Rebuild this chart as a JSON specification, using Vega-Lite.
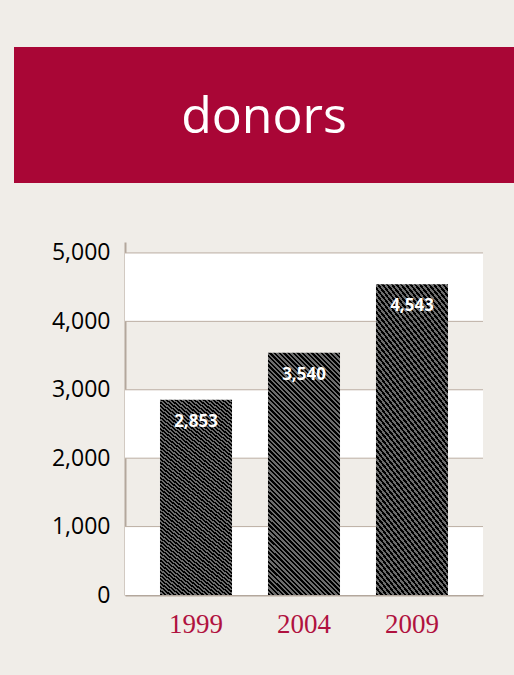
{
  "$schema": "https://vega.github.io/schema/vega-lite/v6.json",
  "background": "#F0EDE8",
  "padding": {"left": 14, "top": 47, "right": 0, "bottom": 40},
  "config": {"view": {"stroke": null}, "font": "Open Sans"},
  "datasets": {
    "donors": [
      {"year": "1999", "donors": 2853},
      {"year": "2004", "donors": 3540},
      {"year": "2009", "donors": 4543}
    ],
    "bands": [
      {"lo": 0, "hi": 1000},
      {"lo": 2000, "hi": 3000},
      {"lo": 4000, "hi": 5000}
    ],
    "grid": [{"v": 1000}, {"v": 2000}, {"v": 3000}, {"v": 4000}, {"v": 5000}]
  },
  "spacing": 58,
  "vconcat": [
    {
      "width": 500,
      "height": 136,
      "view": {"fill": "#A90636", "stroke": null},
      "data": {"values": [{"title": "donors"}]},
      "mark": {"type": "text", "font": "Open Sans", "fontSize": 50, "color": "#FFFFFF", "baseline": "middle", "align": "center", "dy": 3},
      "encoding": {"text": {"field": "title"}}
    },
    {
      "spacing": 0,
      "hconcat": [
        {"width": 37, "height": 353, "data": {"values": []}, "mark": "rect"},
        {
          "width": 358,
          "height": 353,
          "layer": [
            {
              "data": {"name": "bands"},
              "mark": {"type": "rect", "fill": "#FFFFFF"},
              "encoding": {
                "y": {
                  "field": "lo", "type": "quantitative",
                  "scale": {"domain": [0, 5160], "nice": false, "zero": true},
                  "axis": {
                    "values": [0, 1000, 2000, 3000, 4000, 5000], "format": ",d", "title": null,
                    "grid": false, "ticks": false, "tickSize": 0,
                    "labelFont": "Open Sans", "labelFontSize": 23, "labelColor": "#000000", "labelPadding": 15,
                    "domainColor": "#B3A79C", "domainWidth": 2
                  }
                },
                "y2": {"field": "hi"}
              }
            },
            {
              "data": {"name": "grid"},
              "mark": {"type": "rule", "color": "#BBAEA2", "strokeWidth": 1},
              "encoding": {"y": {"field": "v", "type": "quantitative", "title": null}}
            },
            {
              "data": {"name": "donors"},
              "mark": {
                "type": "bar",
                "fill": {
                  "gradient": "linear", "x1": 0, "y1": 1, "x2": 0.526, "y2": -0.771,
                  "stops": [
{"offset":0,"color":"#000"},{"offset":0.005,"color":"#000"},{"offset":0.005,"color":"#6c6c6c"},{"offset":0.01,"color":"#6c6c6c"},
{"offset":0.01,"color":"#000"},{"offset":0.015,"color":"#000"},{"offset":0.015,"color":"#6c6c6c"},{"offset":0.02,"color":"#6c6c6c"},
{"offset":0.02,"color":"#000"},{"offset":0.025,"color":"#000"},{"offset":0.025,"color":"#6c6c6c"},{"offset":0.03,"color":"#6c6c6c"},
{"offset":0.03,"color":"#000"},{"offset":0.035,"color":"#000"},{"offset":0.035,"color":"#6c6c6c"},{"offset":0.04,"color":"#6c6c6c"},
{"offset":0.04,"color":"#000"},{"offset":0.045,"color":"#000"},{"offset":0.045,"color":"#6c6c6c"},{"offset":0.05,"color":"#6c6c6c"},
{"offset":0.05,"color":"#000"},{"offset":0.055,"color":"#000"},{"offset":0.055,"color":"#6c6c6c"},{"offset":0.06,"color":"#6c6c6c"},
{"offset":0.06,"color":"#000"},{"offset":0.065,"color":"#000"},{"offset":0.065,"color":"#6c6c6c"},{"offset":0.07,"color":"#6c6c6c"},
{"offset":0.07,"color":"#000"},{"offset":0.075,"color":"#000"},{"offset":0.075,"color":"#6c6c6c"},{"offset":0.08,"color":"#6c6c6c"},
{"offset":0.08,"color":"#000"},{"offset":0.085,"color":"#000"},{"offset":0.085,"color":"#6c6c6c"},{"offset":0.09,"color":"#6c6c6c"},
{"offset":0.09,"color":"#000"},{"offset":0.095,"color":"#000"},{"offset":0.095,"color":"#6c6c6c"},{"offset":0.1,"color":"#6c6c6c"},
{"offset":0.1,"color":"#000"},{"offset":0.105,"color":"#000"},{"offset":0.105,"color":"#6c6c6c"},{"offset":0.11,"color":"#6c6c6c"},
{"offset":0.11,"color":"#000"},{"offset":0.115,"color":"#000"},{"offset":0.115,"color":"#6c6c6c"},{"offset":0.12,"color":"#6c6c6c"},
{"offset":0.12,"color":"#000"},{"offset":0.125,"color":"#000"},{"offset":0.125,"color":"#6c6c6c"},{"offset":0.13,"color":"#6c6c6c"},
{"offset":0.13,"color":"#000"},{"offset":0.135,"color":"#000"},{"offset":0.135,"color":"#6c6c6c"},{"offset":0.14,"color":"#6c6c6c"},
{"offset":0.14,"color":"#000"},{"offset":0.145,"color":"#000"},{"offset":0.145,"color":"#6c6c6c"},{"offset":0.15,"color":"#6c6c6c"},
{"offset":0.15,"color":"#000"},{"offset":0.155,"color":"#000"},{"offset":0.155,"color":"#6c6c6c"},{"offset":0.16,"color":"#6c6c6c"},
{"offset":0.16,"color":"#000"},{"offset":0.165,"color":"#000"},{"offset":0.165,"color":"#6c6c6c"},{"offset":0.17,"color":"#6c6c6c"},
{"offset":0.17,"color":"#000"},{"offset":0.175,"color":"#000"},{"offset":0.175,"color":"#6c6c6c"},{"offset":0.18,"color":"#6c6c6c"},
{"offset":0.18,"color":"#000"},{"offset":0.185,"color":"#000"},{"offset":0.185,"color":"#6c6c6c"},{"offset":0.19,"color":"#6c6c6c"},
{"offset":0.19,"color":"#000"},{"offset":0.195,"color":"#000"},{"offset":0.195,"color":"#6c6c6c"},{"offset":0.2,"color":"#6c6c6c"},
{"offset":0.2,"color":"#000"},{"offset":0.205,"color":"#000"},{"offset":0.205,"color":"#6c6c6c"},{"offset":0.21,"color":"#6c6c6c"},
{"offset":0.21,"color":"#000"},{"offset":0.215,"color":"#000"},{"offset":0.215,"color":"#6c6c6c"},{"offset":0.22,"color":"#6c6c6c"},
{"offset":0.22,"color":"#000"},{"offset":0.225,"color":"#000"},{"offset":0.225,"color":"#6c6c6c"},{"offset":0.23,"color":"#6c6c6c"},
{"offset":0.23,"color":"#000"},{"offset":0.235,"color":"#000"},{"offset":0.235,"color":"#6c6c6c"},{"offset":0.24,"color":"#6c6c6c"},
{"offset":0.24,"color":"#000"},{"offset":0.245,"color":"#000"},{"offset":0.245,"color":"#6c6c6c"},{"offset":0.25,"color":"#6c6c6c"},
{"offset":0.25,"color":"#000"},{"offset":0.255,"color":"#000"},{"offset":0.255,"color":"#6c6c6c"},{"offset":0.26,"color":"#6c6c6c"},
{"offset":0.26,"color":"#000"},{"offset":0.265,"color":"#000"},{"offset":0.265,"color":"#6c6c6c"},{"offset":0.27,"color":"#6c6c6c"},
{"offset":0.27,"color":"#000"},{"offset":0.275,"color":"#000"},{"offset":0.275,"color":"#6c6c6c"},{"offset":0.28,"color":"#6c6c6c"},
{"offset":0.28,"color":"#000"},{"offset":0.285,"color":"#000"},{"offset":0.285,"color":"#6c6c6c"},{"offset":0.29,"color":"#6c6c6c"},
{"offset":0.29,"color":"#000"},{"offset":0.295,"color":"#000"},{"offset":0.295,"color":"#6c6c6c"},{"offset":0.3,"color":"#6c6c6c"},
{"offset":0.3,"color":"#000"},{"offset":0.305,"color":"#000"},{"offset":0.305,"color":"#6c6c6c"},{"offset":0.31,"color":"#6c6c6c"},
{"offset":0.31,"color":"#000"},{"offset":0.315,"color":"#000"},{"offset":0.315,"color":"#6c6c6c"},{"offset":0.32,"color":"#6c6c6c"},
{"offset":0.32,"color":"#000"},{"offset":0.325,"color":"#000"},{"offset":0.325,"color":"#6c6c6c"},{"offset":0.33,"color":"#6c6c6c"},
{"offset":0.33,"color":"#000"},{"offset":0.335,"color":"#000"},{"offset":0.335,"color":"#6c6c6c"},{"offset":0.34,"color":"#6c6c6c"},
{"offset":0.34,"color":"#000"},{"offset":0.345,"color":"#000"},{"offset":0.345,"color":"#6c6c6c"},{"offset":0.35,"color":"#6c6c6c"},
{"offset":0.35,"color":"#000"},{"offset":0.355,"color":"#000"},{"offset":0.355,"color":"#6c6c6c"},{"offset":0.36,"color":"#6c6c6c"},
{"offset":0.36,"color":"#000"},{"offset":0.365,"color":"#000"},{"offset":0.365,"color":"#6c6c6c"},{"offset":0.37,"color":"#6c6c6c"},
{"offset":0.37,"color":"#000"},{"offset":0.375,"color":"#000"},{"offset":0.375,"color":"#6c6c6c"},{"offset":0.38,"color":"#6c6c6c"},
{"offset":0.38,"color":"#000"},{"offset":0.385,"color":"#000"},{"offset":0.385,"color":"#6c6c6c"},{"offset":0.39,"color":"#6c6c6c"},
{"offset":0.39,"color":"#000"},{"offset":0.395,"color":"#000"},{"offset":0.395,"color":"#6c6c6c"},{"offset":0.4,"color":"#6c6c6c"},
{"offset":0.4,"color":"#000"},{"offset":0.405,"color":"#000"},{"offset":0.405,"color":"#6c6c6c"},{"offset":0.41,"color":"#6c6c6c"},
{"offset":0.41,"color":"#000"},{"offset":0.415,"color":"#000"},{"offset":0.415,"color":"#6c6c6c"},{"offset":0.42,"color":"#6c6c6c"},
{"offset":0.42,"color":"#000"},{"offset":0.425,"color":"#000"},{"offset":0.425,"color":"#6c6c6c"},{"offset":0.43,"color":"#6c6c6c"},
{"offset":0.43,"color":"#000"},{"offset":0.435,"color":"#000"},{"offset":0.435,"color":"#6c6c6c"},{"offset":0.44,"color":"#6c6c6c"},
{"offset":0.44,"color":"#000"},{"offset":0.445,"color":"#000"},{"offset":0.445,"color":"#6c6c6c"},{"offset":0.45,"color":"#6c6c6c"},
{"offset":0.45,"color":"#000"},{"offset":0.455,"color":"#000"},{"offset":0.455,"color":"#6c6c6c"},{"offset":0.46,"color":"#6c6c6c"},
{"offset":0.46,"color":"#000"},{"offset":0.465,"color":"#000"},{"offset":0.465,"color":"#6c6c6c"},{"offset":0.47,"color":"#6c6c6c"},
{"offset":0.47,"color":"#000"},{"offset":0.475,"color":"#000"},{"offset":0.475,"color":"#6c6c6c"},{"offset":0.48,"color":"#6c6c6c"},
{"offset":0.48,"color":"#000"},{"offset":0.485,"color":"#000"},{"offset":0.485,"color":"#6c6c6c"},{"offset":0.49,"color":"#6c6c6c"},
{"offset":0.49,"color":"#000"},{"offset":0.495,"color":"#000"},{"offset":0.495,"color":"#6c6c6c"},{"offset":0.5,"color":"#6c6c6c"},
{"offset":0.5,"color":"#000"},{"offset":0.505,"color":"#000"},{"offset":0.505,"color":"#6c6c6c"},{"offset":0.51,"color":"#6c6c6c"},
{"offset":0.51,"color":"#000"},{"offset":0.515,"color":"#000"},{"offset":0.515,"color":"#6c6c6c"},{"offset":0.52,"color":"#6c6c6c"},
{"offset":0.52,"color":"#000"},{"offset":0.525,"color":"#000"},{"offset":0.525,"color":"#6c6c6c"},{"offset":0.53,"color":"#6c6c6c"},
{"offset":0.53,"color":"#000"},{"offset":0.535,"color":"#000"},{"offset":0.535,"color":"#6c6c6c"},{"offset":0.54,"color":"#6c6c6c"},
{"offset":0.54,"color":"#000"},{"offset":0.545,"color":"#000"},{"offset":0.545,"color":"#6c6c6c"},{"offset":0.55,"color":"#6c6c6c"},
{"offset":0.55,"color":"#000"},{"offset":0.555,"color":"#000"},{"offset":0.555,"color":"#6c6c6c"},{"offset":0.56,"color":"#6c6c6c"},
{"offset":0.56,"color":"#000"},{"offset":0.565,"color":"#000"},{"offset":0.565,"color":"#6c6c6c"},{"offset":0.57,"color":"#6c6c6c"},
{"offset":0.57,"color":"#000"},{"offset":0.575,"color":"#000"},{"offset":0.575,"color":"#6c6c6c"},{"offset":0.58,"color":"#6c6c6c"},
{"offset":0.58,"color":"#000"},{"offset":0.585,"color":"#000"},{"offset":0.585,"color":"#6c6c6c"},{"offset":0.59,"color":"#6c6c6c"},
{"offset":0.59,"color":"#000"},{"offset":0.595,"color":"#000"},{"offset":0.595,"color":"#6c6c6c"},{"offset":0.6,"color":"#6c6c6c"},
{"offset":0.6,"color":"#000"},{"offset":0.605,"color":"#000"},{"offset":0.605,"color":"#6c6c6c"},{"offset":0.61,"color":"#6c6c6c"},
{"offset":0.61,"color":"#000"},{"offset":0.615,"color":"#000"},{"offset":0.615,"color":"#6c6c6c"},{"offset":0.62,"color":"#6c6c6c"},
{"offset":0.62,"color":"#000"},{"offset":0.625,"color":"#000"},{"offset":0.625,"color":"#6c6c6c"},{"offset":0.63,"color":"#6c6c6c"},
{"offset":0.63,"color":"#000"},{"offset":0.635,"color":"#000"},{"offset":0.635,"color":"#6c6c6c"},{"offset":0.64,"color":"#6c6c6c"},
{"offset":0.64,"color":"#000"},{"offset":0.645,"color":"#000"},{"offset":0.645,"color":"#6c6c6c"},{"offset":0.65,"color":"#6c6c6c"},
{"offset":0.65,"color":"#000"},{"offset":0.655,"color":"#000"},{"offset":0.655,"color":"#6c6c6c"},{"offset":0.66,"color":"#6c6c6c"},
{"offset":0.66,"color":"#000"},{"offset":0.665,"color":"#000"},{"offset":0.665,"color":"#6c6c6c"},{"offset":0.67,"color":"#6c6c6c"},
{"offset":0.67,"color":"#000"},{"offset":0.675,"color":"#000"},{"offset":0.675,"color":"#6c6c6c"},{"offset":0.68,"color":"#6c6c6c"},
{"offset":0.68,"color":"#000"},{"offset":0.685,"color":"#000"},{"offset":0.685,"color":"#6c6c6c"},{"offset":0.69,"color":"#6c6c6c"},
{"offset":0.69,"color":"#000"},{"offset":0.695,"color":"#000"},{"offset":0.695,"color":"#6c6c6c"},{"offset":0.7,"color":"#6c6c6c"}
                  ]
                }
              },
              "encoding": {
                "x": {
                  "field": "year", "type": "nominal",
                  "scale": {"paddingInner": 0.333, "paddingOuter": 0.324},
                  "axis": {
                    "title": null, "labelAngle": 0, "ticks": false, "tickSize": 0,
                    "labelFont": "Liberation Serif", "labelFontSize": 27, "labelColor": "#B0123F", "labelPadding": 16,
                    "domainColor": "#B3A79C", "domainWidth": 2
                  }
                },
                "y": {"field": "donors", "type": "quantitative", "title": null}
              }
            },
            {
              "data": {"name": "donors"},
              "mark": {"type": "text", "color": "#FFFFFF", "font": "Open Sans", "fontWeight": "bold", "fontSize": 17, "baseline": "alphabetic", "align": "center", "dy": 27},
              "encoding": {
                "x": {"field": "year", "type": "nominal"},
                "y": {"field": "donors", "type": "quantitative", "title": null},
                "text": {"field": "donors", "type": "quantitative", "format": ","}
              }
            }
          ]
        }
      ]
    }
  ]
}
